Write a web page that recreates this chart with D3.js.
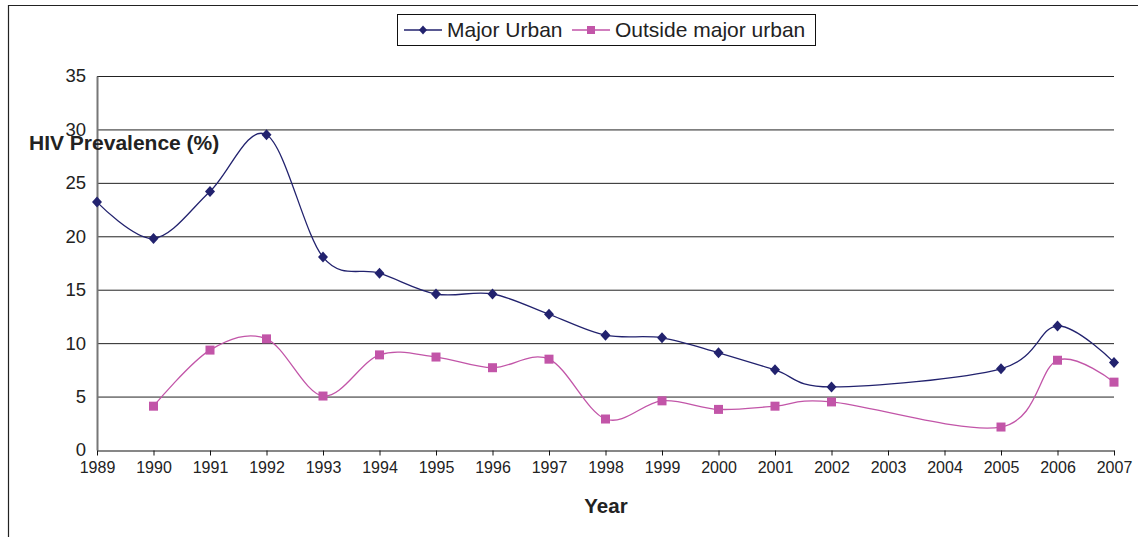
<!DOCTYPE html>
<html><head><meta charset="utf-8">
<script src="https://cdn.jsdelivr.net/npm/d3@7"></script>
<style>body{margin:0;background:#fff}svg{display:block;font-family:"Liberation Sans",Arial,sans-serif}</style>
</head><body>
<svg id="c" width="1138" height="537"></svg>
<script>
const years = [1989,1990,1991,1992,1993,1994,1995,1996,1997,1998,1999,2000,2001,2002,2003,2004,2005,2006,2007];
const majorUrban = [23.2,19.8,24.2,29.5,18.05,16.55,14.6,14.6,12.7,10.75,10.5,9.1,7.5,5.9,null,null,7.6,11.6,8.2];
const outsideUrban = [null,4.1,9.35,10.4,5.05,8.9,8.7,7.7,8.5,2.9,4.6,3.8,4.1,4.5,null,null,2.15,8.4,6.35];
const yTicks = [0,5,10,15,20,25,30,35];
const seriesNames = ["Major Urban","Outside major urban"];

const svg = d3.select("#c");
const L=97,R=1114,T=76,B=450;
const x = d3.scalePoint().domain(years).range([L,R]);
const y = d3.scaleLinear().domain([0,35]).range([B,T]);

// outer frame
svg.append("path").attr("d","M8.5,537V5.5H1138").attr("fill","none").attr("stroke","#222").attr("stroke-width",1.2);

// gridlines
svg.append("g").selectAll("line").data(yTicks.filter(d=>d>0)).join("line")
 .attr("x1",L).attr("x2",R).attr("y1",d=>y(d)+0.5).attr("y2",d=>y(d)+0.5)
 .attr("stroke","#222").attr("stroke-width",1);

// y axis
const ya = svg.append("g").attr("transform",`translate(${L},0)`).call(d3.axisLeft(y).tickValues(yTicks).tickSize(0).tickPadding(11));
ya.select(".domain").attr("stroke","#777").attr("stroke-width",2);
ya.selectAll("text").attr("font-size",18.5).attr("fill","#222").attr("font-family","Liberation Sans,Arial,sans-serif");

// x axis
const xa = svg.append("g").attr("transform",`translate(0,${B+0.5})`).call(d3.axisBottom(x).tickSizeInner(5).tickSizeOuter(0).tickPadding(6));
xa.select(".domain").attr("stroke","#111").attr("stroke-width",1.2);
xa.selectAll(".tick line").attr("stroke","#111");
xa.selectAll("text").attr("font-size",16).attr("fill","#222").attr("font-family","Liberation Sans,Arial,sans-serif");

// titles
svg.append("text").attr("x",606).attr("y",513).attr("text-anchor","middle").attr("font-size",20.5).attr("font-weight","bold").attr("fill","#222").text("Year");
svg.append("text").attr("x",29).attr("y",150).attr("font-size",21).attr("font-weight","bold").attr("fill","#222").text("HIV Prevalence (%)");

const colors = ["#22226e","#c255a8"];
const line = d3.line().x(d=>x(d.year)).y(d=>y(d.v)).curve(d3.curveCardinal.tension(0));
const datasets = [majorUrban,outsideUrban].map(arr=>years.map((yr,i)=>({year:yr,v:arr[i]})).filter(d=>d.v!=null));

datasets.forEach((ds,k)=>{
  svg.append("path").datum(ds).attr("d",line).attr("fill","none").attr("stroke",colors[k]).attr("stroke-width",1.3);
});
// markers
svg.append("g").selectAll("path").data(datasets[0]).join("path")
 .attr("transform",d=>`translate(${x(d.year)},${y(d.v)})`)
 .attr("d","M0,-5.5L5,0L0,5.5L-5,0Z").attr("fill",colors[0]);
svg.append("g").selectAll("rect").data(datasets[1]).join("rect")
 .attr("x",d=>x(d.year)-4.5).attr("y",d=>y(d.v)-4.5).attr("width",9).attr("height",9).attr("fill",colors[1]);

// legend
const lg = svg.append("g");
lg.append("rect").attr("x",397.5).attr("y",14.5).attr("width",418).attr("height",31).attr("fill","#fff").attr("stroke","#111").attr("stroke-width",1);
const items=[{x0:404,x1:442,tx:447},{x0:572,x1:610,tx:615}];
items.forEach((it,k)=>{
  lg.append("line").attr("x1",it.x0).attr("x2",it.x1).attr("y1",30).attr("y2",30).attr("stroke",colors[k]).attr("stroke-width",1.3);
  const cx=(it.x0+it.x1)/2;
  if(k===0) lg.append("path").attr("transform",`translate(${cx},30)`).attr("d","M0,-4.5L4,0L0,4.5L-4,0Z").attr("fill",colors[0]);
  else lg.append("rect").attr("x",cx-4).attr("y",26).attr("width",8).attr("height",8).attr("fill",colors[1]);
  lg.append("text").attr("x",it.tx).attr("y",37).attr("font-size",21).attr("fill","#222").text(seriesNames[k]);
});
</script>
</body></html>
